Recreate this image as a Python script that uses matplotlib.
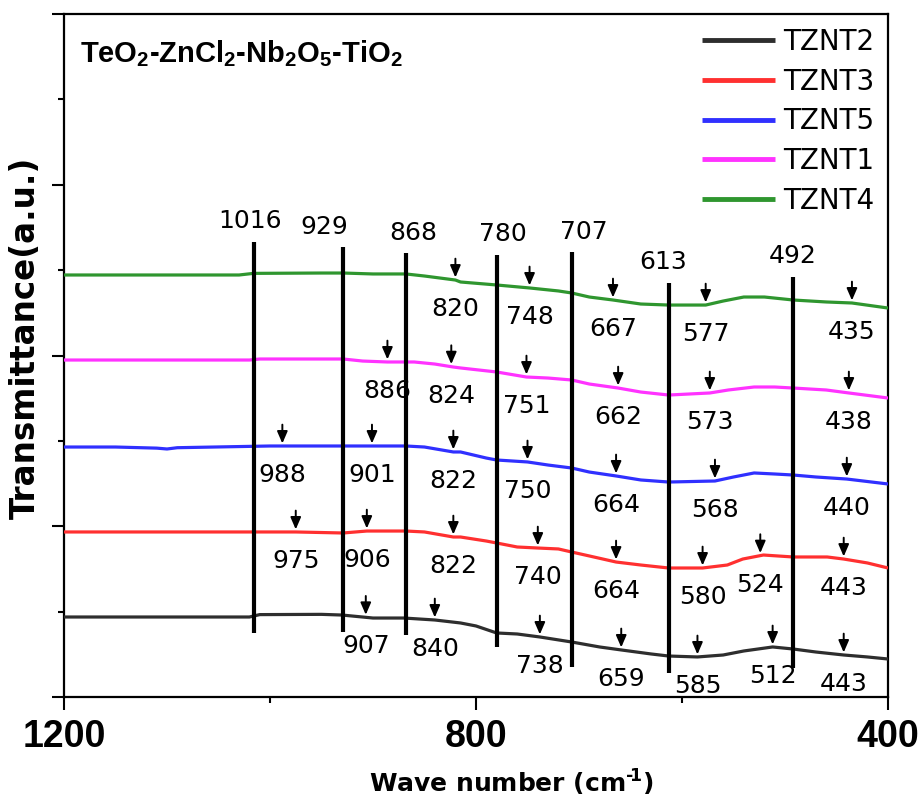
import numpy as np
import matplotlib
matplotlib.use("Agg")
import matplotlib.pyplot as plt
from matplotlib.ticker import MultipleLocator

plt.rcParams["font.family"] = ["DejaVu Sans"]
plt.rcParams["mathtext.default"] = "regular"

# ---- FTIR spectra (wavenumber in cm-1, offset transmittance in a.u.) ----
wn_t2 = [1200, 1100, 1020, 1010, 950, 930, 900, 870, 840, 815, 800, 780, 760, 738,
         707, 680, 659, 630, 613, 585, 560, 540, 512, 492, 470, 443, 420, 400]
tr_t2 = [0.937, 0.937, 0.937, 0.965, 0.968, 0.960, 0.925, 0.925, 0.902, 0.867, 0.832,
         0.750, 0.738, 0.703, 0.644, 0.586, 0.551, 0.504, 0.480, 0.469, 0.492, 0.539,
         0.586, 0.562, 0.527, 0.492, 0.469, 0.445]

wn_t3 = [1200, 1100, 1000, 975, 929, 906, 868, 850, 822, 815, 790, 780, 760, 740, 720,
         707, 690, 664, 640, 613, 580, 556, 541, 521, 492, 459, 443, 420, 400]
tr_t3 = [1.933, 1.933, 1.933, 1.933, 1.921, 1.944, 1.944, 1.933, 1.874, 1.874, 1.827,
         1.804, 1.757, 1.745, 1.734, 1.698, 1.652, 1.581, 1.546, 1.511, 1.511, 1.546,
         1.616, 1.663, 1.640, 1.640, 1.616, 1.570, 1.511]

wn_t5 = [1200, 1150, 1110, 1100, 1090, 1000, 988, 950, 901, 868, 850, 822, 815, 790, 780,
         750, 730, 707, 690, 664, 640, 613, 568, 550, 530, 510, 492, 470, 440, 400]
tr_t5 = [2.928, 2.928, 2.915, 2.905, 2.920, 2.940, 2.940, 2.940, 2.940, 2.940, 2.928,
         2.870, 2.870, 2.799, 2.776, 2.753, 2.717, 2.682, 2.635, 2.589, 2.542, 2.518,
         2.530, 2.577, 2.624, 2.612, 2.600, 2.577, 2.553, 2.495]

wn_t1 = [1200, 1020, 1010, 929, 910, 886, 860, 840, 822, 815, 780, 751, 730, 707, 690,
         662, 640, 613, 573, 555, 530, 510, 492, 460, 438, 400]
tr_t1 = [3.947, 3.947, 3.959, 3.959, 3.935, 3.924, 3.924, 3.900, 3.865, 3.854, 3.807,
         3.748, 3.736, 3.713, 3.666, 3.619, 3.572, 3.537, 3.561, 3.596, 3.631, 3.631,
         3.619, 3.596, 3.561, 3.502]

wn_t4 = [1200, 1030, 1016, 950, 929, 900, 868, 850, 820, 815, 780, 748, 720, 707, 690,
         667, 640, 613, 577, 560, 540, 520, 492, 460, 435, 400]
tr_t4 = [4.943, 4.943, 4.962, 4.966, 4.966, 4.955, 4.955, 4.931, 4.884, 4.861, 4.826,
         4.791, 4.756, 4.732, 4.685, 4.650, 4.603, 4.591, 4.591, 4.638, 4.685, 4.685,
         4.650, 4.627, 4.615, 4.556]

# band positions marked with arrows on each spectrum
peaks_t2 = [907, 840, 738, 659, 585, 512, 443]
peaks_t3 = [975, 906, 822, 740, 664, 580, 524, 443]
peaks_t5 = [988, 901, 822, 750, 664, 568, 440]
peaks_t1 = [886, 824, 751, 662, 573, 438]
peaks_t4 = [820, 748, 667, 577, 435]

# common bands drawn as vertical bars
band_wn = [1016, 929, 868, 780, 707, 613, 492]
band_top = [5.33, 5.27, 5.20, 5.18, 5.21, 4.85, 4.92]
band_bottom = [0.75, 0.76, 0.73, 0.59, 0.35, 0.28, 0.34]
band_label_shift = [3, 18, -7, -6, -12, 5, 1]

series = [
    ("TZNT2", wn_t2, tr_t2, peaks_t2, "#2e2e2e"),
    ("TZNT3", wn_t3, tr_t3, peaks_t3, "#ff3030"),
    ("TZNT5", wn_t5, tr_t5, peaks_t5, "#3030ff"),
    ("TZNT1", wn_t1, tr_t1, peaks_t1, "#ff33ff"),
    ("TZNT4", wn_t4, tr_t4, peaks_t4, "#2f962f"),
]

fig = plt.figure(figsize=(9.24, 7.98), dpi=100)
ax = fig.add_axes([64 / 924, 1 - 697 / 798, 824 / 924, 683 / 798])

for name, wn, tr, peaks, color in series:
    ax.plot(wn, tr, color=color, lw=2.3, label=name, solid_capstyle="butt", zorder=3)
    for p in peaks:
        yv = float(np.interp(p, wn[::-1], tr[::-1]))
        ax.annotate("", xy=(p, yv + 0.03), xytext=(p, yv + 0.25),
                    arrowprops=dict(arrowstyle="-|>,head_length=0.6,head_width=0.26",
                                    color="black", lw=1.4, shrinkA=0, shrinkB=0,
                                    mutation_scale=12), zorder=5)
        ax.text(p, yv - 0.34, str(p), ha="center", va="center", fontsize=18, zorder=6)

ax.vlines(band_wn, band_bottom, band_top, color="black", lw=3.0, zorder=4)
for w, top, dx in zip(band_wn, band_top, band_label_shift):
    ax.text(w + dx, top + 0.24, str(w), ha="center", va="center", fontsize=18)

ax.set_xlim(1200, 400)
ax.set_ylim(0, 8)
ax.xaxis.set_major_locator(MultipleLocator(400))
ax.xaxis.set_minor_locator(MultipleLocator(200))
ax.yaxis.set_major_locator(MultipleLocator(2))
ax.yaxis.set_minor_locator(MultipleLocator(1))
ax.tick_params(axis="both", which="major", direction="out", length=9, width=1.5)
ax.tick_params(axis="both", which="minor", direction="out", length=4.5, width=1.5)
ax.tick_params(axis="y", which="both", labelleft=False)
ax.tick_params(axis="x", which="major", pad=7)
for lab in ax.get_xticklabels():
    lab.set_fontfamily("Liberation Sans")
    lab.set_fontweight("bold")
    lab.set_fontsize(27)
for s in ax.spines.values():
    s.set_linewidth(1.6)

ax.set_xlabel("Wave number (cm$^{\u2010\\!1}$)", fontsize=18, fontweight="bold")
ax.xaxis.set_label_coords((512 - 64) / 824, -0.103)
ax.set_ylabel("Transmittance(a.u.)", fontsize=23.5, fontweight="bold")
ax.yaxis.set_label_coords(-0.027, 0.526)

ax.text(16 / 824, 7.43, "TeO$_2$-ZnCl$_2$-Nb$_2$O$_5$-TiO$_2$", fontsize=21,
        fontweight="bold", fontfamily="Liberation Sans", va="baseline", ha="left",
        transform=ax.get_yaxis_transform())

ax.legend(loc="upper right", bbox_to_anchor=(1.0, 1.0), frameon=False, fontsize=20,
          handlelength=2.6, handletextpad=0.3, labelspacing=0.42, borderaxespad=0.3,
          borderpad=0.2)
for line in ax.get_legend().get_lines():
    line.set_linewidth(3.5)

fig.savefig("out.png", dpi=100)
